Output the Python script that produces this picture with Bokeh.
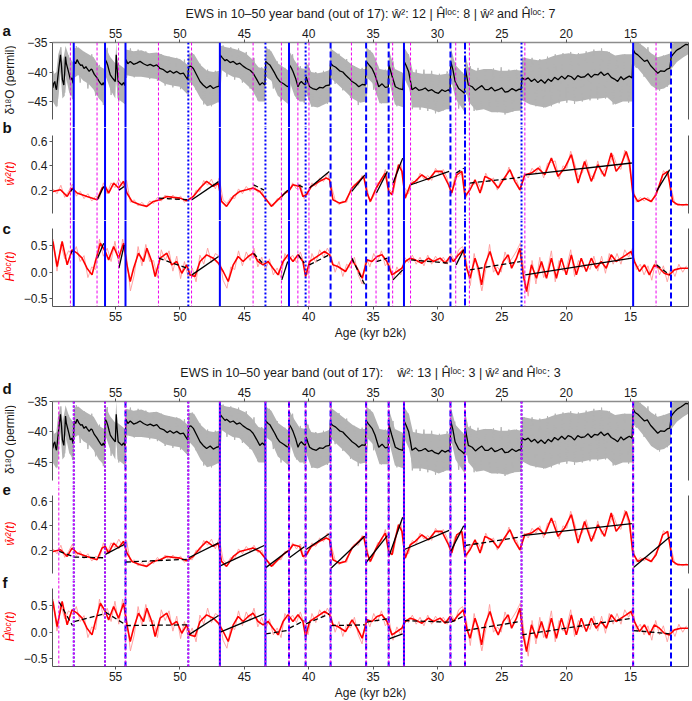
import math
from bokeh.plotting import figure
from bokeh.models import Range1d, LinearAxis, FixedTicker, Span, Spacer
from bokeh.layouts import column, row
from bokeh.core.properties import value
from bokeh.embed import file_html
from bokeh.resources import INLINE

# ------------------------------------------------------------------ data
x_ticks = [55, 50, 45, 40, 35, 30, 25, 20, 15]

# delta18O running mean (age kyr b2k, permil)
d18o_pts = [
    (59.88, -42.7), (59.80, -41.9), (59.72, -41.6), (59.65, -42.6), (59.59, -43.0), (59.50, -41.2),
    (59.41, -39.4), (59.35, -38.3), (59.28, -37.1), (59.20, -39.0), (59.13, -41.3), (59.02, -42.2),
    (58.95, -40.0), (58.89, -37.4), (58.82, -38.6), (58.76, -39.1), (58.63, -40.2), (58.51, -41.3),
    (58.40, -41.0), (58.30, -41.9), (58.22, -38.2), (58.10, -38.6), (57.99, -37.9), (57.85, -38.5),
    (57.70, -38.9), (57.60, -38.8), (57.45, -39.4), (57.30, -39.1), (57.22, -39.4), (57.05, -39.9),
    (56.90, -39.5), (56.83, -39.6), (56.65, -40.4), (56.44, -41.0), (56.30, -41.5), (56.15, -42.0),
    (56.05, -42.2), (55.95, -41.8), (55.86, -42.3), (55.80, -37.9), (55.70, -38.3), (55.62, -38.8),
    (55.50, -39.8), (55.41, -40.5), (55.25, -41.0), (55.10, -41.4), (55.02, -41.6), (54.95, -37.1),
    (54.88, -39.5), (54.80, -41.6), (54.65, -41.9), (54.51, -42.2), (54.38, -41.8), (54.26, -42.3),
    (54.20, -37.9), (54.05, -38.6), (53.86, -38.2), (53.60, -38.7), (53.35, -38.5), (53.10, -38.2),
    (52.83, -38.6), (52.55, -38.9), (52.31, -38.7), (52.05, -39.0), (51.80, -38.8), (51.55, -39.4),
    (51.28, -39.6), (51.00, -40.1), (50.77, -39.8), (50.50, -40.2), (50.25, -39.9), (50.00, -40.3),
    (49.73, -40.2), (49.55, -40.8), (49.40, -41.3), (49.32, -39.1), (49.15, -39.0), (48.96, -39.4),
    (48.70, -40.5), (48.44, -41.6), (48.20, -42.2), (47.93, -42.7), (47.65, -42.3), (47.41, -42.8),
    (47.15, -42.5), (46.95, -42.4), (46.88, -37.1), (46.70, -37.6), (46.50, -38.1), (46.38, -37.9),
    (46.10, -38.4), (45.86, -38.2), (45.60, -38.7), (45.35, -38.5), (45.10, -39.0), (44.83, -39.4),
    (44.55, -39.7), (44.32, -40.2), (44.05, -41.2), (43.80, -42.2), (43.60, -41.8), (43.40, -42.2),
    (43.34, -38.2), (43.15, -38.6), (43.02, -38.8), (42.80, -39.6), (42.64, -40.2), (42.45, -41.0),
    (42.25, -41.6), (41.95, -42.0), (41.70, -42.4), (41.56, -42.5), (41.50, -38.8), (41.35, -39.3),
    (41.22, -39.9), (41.00, -41.2), (40.83, -42.5), (40.70, -41.9), (40.57, -41.6), (40.40, -42.0),
    (40.26, -42.2), (40.20, -40.8), (40.05, -41.8), (39.93, -42.5), (39.70, -42.8), (39.41, -43.0),
    (39.15, -42.6), (38.90, -42.7), (38.65, -42.3), (38.38, -42.2), (38.30, -38.5), (38.15, -38.9),
    (37.90, -39.2), (37.60, -39.8), (37.35, -40.0), (37.14, -40.5), (36.90, -41.0), (36.63, -41.6),
    (36.35, -42.0), (36.11, -42.5), (35.85, -42.1), (35.60, -42.2), (35.53, -38.2), (35.35, -38.7),
    (35.08, -39.4), (34.85, -40.5), (34.56, -42.5), (34.30, -42.0), (34.05, -42.6), (33.82, -42.5),
    (33.77, -38.8), (33.55, -40.5), (33.27, -42.5), (33.00, -42.8), (32.68, -43.0), (32.59, -38.2),
    (32.45, -38.8), (32.24, -39.9), (32.10, -41.5), (31.98, -43.0), (31.70, -42.6), (31.45, -43.1),
    (31.21, -43.0), (30.95, -42.7), (30.70, -43.2), (30.44, -43.0), (30.20, -43.4), (29.92, -43.6),
    (29.65, -43.0), (29.40, -43.3), (29.15, -43.0), (29.02, -43.3), (28.97, -38.2), (28.80, -39.6),
    (28.63, -41.6), (28.35, -42.8), (28.10, -43.2), (27.90, -43.6), (27.84, -39.4), (27.72, -40.8),
    (27.60, -42.2), (27.30, -42.5), (27.05, -43.1), (26.82, -42.7), (26.55, -42.3), (26.30, -43.0),
    (26.05, -43.0), (25.80, -42.6), (25.55, -43.2), (25.28, -43.0), (25.00, -42.7), (24.75, -43.4),
    (24.50, -43.3), (24.20, -42.8), (23.90, -43.2), (23.65, -42.9), (23.50, -43.0), (23.44, -41.0),
    (23.20, -41.3), (22.95, -41.0), (22.70, -41.6), (22.45, -41.2), (22.20, -41.8), (21.95, -41.3),
    (21.66, -41.9), (21.40, -41.2), (21.15, -41.6), (20.90, -40.9), (20.63, -41.3), (20.35, -40.7),
    (20.10, -41.2), (19.85, -40.6), (19.60, -40.8), (19.35, -41.3), (19.10, -40.6), (18.85, -40.9),
    (18.57, -40.8), (18.30, -40.3), (18.05, -40.9), (17.80, -40.4), (17.54, -40.5), (17.30, -40.0),
    (17.05, -40.6), (16.77, -40.2), (16.50, -40.9), (16.25, -41.2), (16.00, -41.6), (15.75, -40.8),
    (15.55, -41.3), (15.34, -41.0), (15.10, -40.7), (14.88, -41.0), (14.80, -36.2), (14.65, -36.8),
    (14.44, -37.1), (14.20, -37.6), (13.92, -38.2), (13.70, -38.0), (13.45, -38.9), (13.15, -39.6),
    (12.89, -40.2), (12.65, -39.8), (12.38, -39.9), (12.15, -39.5), (11.95, -39.35), (11.84, -37.4),
    (11.70, -37.0), (11.50, -36.5), (11.34, -36.2), (11.10, -35.9), (10.90, -35.6), (10.70, -35.3),
    (10.52, -35.4),
]

# raw delta18O envelope (age, upper, lower)
gray_pts = [
    (59.88, -40.5, -45.0), (59.60, -40.0, -46.0), (59.45, -37.0, -44.5), (59.28, -35.8, -40.0),
    (59.13, -38.5, -44.5), (58.95, -36.5, -44.0), (58.89, -35.6, -40.5), (58.60, -37.5, -43.5),
    (58.26, -38.5, -44.5), (58.22, -36.0, -41.0), (57.90, -35.8, -40.5), (57.50, -36.5, -41.5),
    (57.10, -37.0, -42.0), (56.70, -37.5, -43.0), (56.30, -39.0, -44.5), (55.86, -39.5, -45.5),
    (55.80, -35.8, -40.5), (55.40, -37.5, -43.0), (55.02, -38.5, -44.5), (54.95, -35.0, -40.0),
    (54.85, -38.5, -44.5), (54.25, -39.5, -45.5), (54.20, -36.2, -40.5), (53.60, -36.5, -40.8),
    (53.00, -36.3, -40.8), (52.40, -36.8, -41.0), (51.80, -36.7, -41.2), (51.20, -37.2, -42.0),
    (50.60, -37.5, -42.3), (50.00, -37.8, -42.5), (49.40, -38.8, -43.8), (49.32, -36.8, -41.5),
    (48.90, -37.0, -42.5), (48.40, -38.8, -44.5), (47.90, -39.8, -45.8), (47.40, -40.0, -45.5),
    (46.92, -39.8, -45.0), (46.88, -35.5, -39.5), (46.40, -35.8, -40.2), (45.90, -36.0, -40.8),
    (45.40, -36.3, -41.0), (44.90, -36.8, -42.0), (44.40, -37.8, -43.0), (43.90, -39.2, -45.0),
    (43.38, -39.5, -45.0), (43.34, -35.8, -40.8), (42.90, -36.5, -41.5), (42.40, -38.5, -44.0),
    (41.55, -39.8, -45.5), (41.50, -36.5, -41.5), (41.10, -38.0, -44.0), (40.70, -39.3, -45.0),
    (40.27, -39.5, -45.0), (40.20, -38.3, -43.5), (39.80, -40.0, -45.8), (39.30, -40.2, -46.0),
    (38.80, -40.0, -45.5), (38.32, -39.6, -45.0), (38.30, -36.0, -41.0), (37.80, -36.8, -42.0),
    (37.20, -37.8, -43.2), (36.60, -38.8, -44.5), (36.00, -39.5, -45.2), (35.55, -39.5, -45.0),
    (35.53, -35.8, -40.8), (35.00, -36.8, -42.0), (34.50, -39.5, -45.3), (33.80, -39.8, -45.3),
    (33.77, -36.3, -41.5), (33.30, -39.5, -45.5), (32.62, -40.2, -46.0), (32.59, -35.8, -41.0),
    (32.20, -37.2, -42.8), (31.90, -40.0, -46.0), (31.20, -40.3, -46.0), (30.50, -40.3, -46.3),
    (29.90, -40.5, -46.8), (29.30, -40.3, -46.3), (29.00, -40.5, -46.3), (28.97, -35.8, -41.0),
    (28.60, -38.8, -44.5), (27.88, -40.5, -46.8), (27.84, -36.8, -42.0), (27.60, -39.2, -45.0),
    (27.00, -39.8, -46.5), (26.40, -39.5, -46.3), (25.80, -39.5, -46.8), (25.20, -39.8, -46.8),
    (24.60, -39.8, -47.0), (24.00, -39.6, -46.6), (23.46, -39.8, -46.5), (23.44, -37.5, -44.8),
    (22.80, -37.8, -45.5), (22.20, -38.0, -45.8), (21.60, -37.8, -46.0), (21.00, -37.3, -45.5),
    (20.40, -37.0, -45.0), (19.80, -36.8, -44.8), (19.20, -37.0, -45.0), (18.60, -36.8, -44.8),
    (18.00, -36.5, -44.5), (17.40, -36.4, -44.5), (16.80, -36.5, -44.3), (16.20, -37.2, -45.5),
    (15.60, -37.0, -45.0), (14.82, -37.0, -45.0), (14.80, -34.8, -38.5), (14.40, -35.0, -39.5),
    (13.90, -35.8, -40.8), (13.40, -36.8, -42.3), (12.90, -37.5, -43.0), (12.40, -37.2, -42.8),
    (11.88, -36.8, -42.0), (11.84, -35.2, -39.5), (11.40, -35.0, -38.3), (10.90, -35.0, -37.5),
    (10.52, -35.0, -37.0),
]

# grid of the unsmoothed series (kyr b2k)
raw_age = [59.85, 59.55, 59.25, 58.95, 58.65, 58.35, 58.05, 57.75, 57.45, 57.15,
           56.85, 56.55, 56.25, 55.95, 55.65, 55.35, 55.05, 54.75, 54.45, 54.15,
           53.85, 53.55, 53.25, 52.95, 52.65, 52.35, 52.05, 51.75, 51.45, 51.15,
           50.85, 50.55, 50.25, 49.95, 49.65, 49.35, 49.05, 48.75, 48.45, 48.15,
           47.85, 47.55, 47.25, 46.95, 46.65, 46.35, 46.05, 45.75, 45.45, 45.15,
           44.85, 44.55, 44.25, 43.95, 43.65, 43.35, 43.05, 42.75, 42.45, 42.15,
           41.85, 41.55, 41.25, 40.95, 40.65, 40.35, 40.05, 39.75, 39.45, 39.15,
           38.85, 38.55, 38.25, 37.95, 37.65, 37.35, 37.05, 36.75, 36.45, 36.15,
           35.85, 35.55, 35.25, 34.95, 34.65, 34.35, 34.05, 33.75, 33.45, 33.15,
           32.85, 32.55, 32.25, 31.95, 31.65, 31.35, 31.05, 30.75, 30.45, 30.15,
           29.85, 29.55, 29.25, 28.95, 28.65, 28.35, 28.05, 27.75, 27.45, 27.15,
           26.85, 26.55, 26.25, 25.95, 25.65, 25.35, 25.05, 24.75, 24.45, 24.15,
           23.85, 23.55, 23.25, 22.95, 22.65, 22.35, 22.05, 21.75, 21.45, 21.15,
           20.85, 20.55, 20.25, 19.95, 19.65, 19.35, 19.05, 18.75, 18.45, 18.15,
           17.85, 17.55, 17.25, 16.95, 16.65, 16.35, 16.05, 15.75, 15.45, 15.15,
           14.85, 14.55, 14.25, 13.95, 13.65, 13.35, 13.05, 12.75, 12.45, 12.15,
           11.85, 11.55, 11.25, 10.95, 10.65]

# raw delta18O spikes on that grid
d18o_raw = [-39.8, -45.8, -35.8, -43.5, -37.2, -44.6, -35.6, -41.8, -36.6, -42.8,
            -37.0, -44.0, -38.8, -45.6, -35.9, -43.9, -38.6, -45.0, -39.3, -41.0,
            -36.0, -40.9, -36.2, -40.7, -36.5, -41.2, -36.8, -41.5, -37.0, -42.3,
            -37.4, -42.6, -37.6, -42.9, -37.9, -43.8, -36.8, -43.0, -38.6, -45.5,
            -39.6, -45.8, -39.8, -45.2, -35.5, -40.8, -35.8, -41.3, -36.0, -41.8,
            -36.6, -42.8, -37.6, -44.8, -39.2, -41.0, -36.2, -42.8, -38.2, -45.0,
            -39.3, -45.5, -37.0, -44.5, -39.0, -45.2, -38.8, -45.9, -40.0, -45.8,
            -39.8, -45.4, -36.0, -42.0, -36.9, -43.1, -37.8, -44.4, -39.0, -45.6,
            -39.3, -45.2, -36.3, -43.0, -38.9, -45.3, -39.6, -41.8, -38.2, -45.8,
            -40.0, -41.2, -37.0, -46.3, -39.6, -46.4, -39.6, -46.6, -39.8, -47.0,
            -40.3, -46.5, -39.9, -41.5, -38.3, -46.2, -40.1, -43.8, -39.0, -46.6,
            -39.3, -46.0, -39.5, -46.6, -39.4, -46.8, -39.2, -47.2, -39.6, -46.7,
            -39.6, -46.5, -37.6, -45.2, -37.6, -45.8, -37.8, -46.0, -37.4, -45.8,
            -37.0, -45.3, -36.8, -45.2, -36.6, -45.4, -36.8, -45.0, -36.5, -44.8,
            -36.2, -44.7, -36.0, -44.5, -36.6, -45.5, -37.6, -45.0, -37.0, -45.2,
            -38.3, -39.3, -35.2, -40.8, -35.8, -42.2, -37.0, -43.2, -37.2, -42.5,
            -36.9, -38.5, -35.0, -37.4, -35.0]

# smoothed variance w^2(t)
w_age = [59.87, 59.28, 58.76, 58.38, 57.99, 57.22, 56.44, 56.05, 55.80, 55.54,
         55.15, 54.77, 54.38, 54.12, 53.73, 53.09, 52.57, 52.06, 51.54, 51.02,
         50.51, 49.99, 49.48, 48.96, 48.44, 47.93, 47.41, 47.02, 46.77, 46.38,
         45.86, 45.35, 44.83, 44.32, 43.80, 43.28, 42.90, 42.51, 41.99, 41.48,
         41.22, 40.70, 40.45, 40.19, 39.80, 39.16, 38.64, 38.38, 38.12, 37.61,
         37.14, 36.63, 36.11, 35.73, 35.47, 35.21, 34.82, 34.31, 34.05, 33.79,
         33.53, 33.27, 33.02, 32.76, 32.50, 32.11, 31.73, 31.21, 30.69, 30.18,
         29.66, 29.14, 28.89, 28.50, 28.11, 27.86, 27.47, 27.08, 26.69, 26.31,
         25.79, 25.28, 24.89, 24.37, 23.99, 23.60, 23.21, 22.70, 22.18, 21.66,
         21.15, 20.63, 20.12, 19.60, 19.08, 18.57, 18.05, 17.54, 17.02, 16.50,
         16.12, 15.73, 15.34, 15.09, 14.83, 14.44, 13.92, 13.41, 13.02, 12.50,
         12.12, 11.73, 11.34, 10.52]
w_smooth = [0.189, 0.203, 0.148, 0.217, 0.176, 0.148, 0.121, 0.217, 0.230, 0.176,
            0.258, 0.217, 0.272, 0.176, 0.107, 0.080, 0.066, 0.107, 0.121, 0.148,
            0.140, 0.134, 0.112, 0.148, 0.217, 0.272, 0.230, 0.258, 0.107, 0.066,
            0.148, 0.189, 0.203, 0.217, 0.189, 0.121, 0.066, 0.107, 0.162, 0.203,
            0.244, 0.230, 0.148, 0.162, 0.230, 0.272, 0.299, 0.285, 0.121, 0.093,
            0.107, 0.217, 0.272, 0.313, 0.176, 0.107, 0.203, 0.299, 0.340, 0.189,
            0.162, 0.299, 0.409, 0.354, 0.134, 0.244, 0.272, 0.326, 0.285, 0.354,
            0.354, 0.244, 0.176, 0.326, 0.354, 0.148, 0.203, 0.285, 0.176, 0.313,
            0.285, 0.217, 0.285, 0.368, 0.272, 0.203, 0.326, 0.340, 0.381, 0.326,
            0.464, 0.313, 0.381, 0.491, 0.258, 0.436, 0.272, 0.409, 0.313, 0.505,
            0.354, 0.409, 0.518, 0.436, 0.176, 0.107, 0.134, 0.107, 0.162, 0.326,
            0.354, 0.107, 0.080, 0.080]
w_raw = [0.21, 0.17, 0.24, 0.14, 0.19, 0.25, 0.15, 0.19, 0.13, 0.17,
         0.11, 0.15, 0.13, 0.26, 0.17, 0.26, 0.22, 0.29, 0.23, 0.28,
         0.10, 0.12, 0.07, 0.10, 0.06, 0.11, 0.09, 0.14, 0.11, 0.16,
         0.12, 0.16, 0.12, 0.15, 0.10, 0.13, 0.12, 0.20, 0.19, 0.28,
         0.24, 0.29, 0.21, 0.30, 0.12, 0.09, 0.14, 0.13, 0.21, 0.17,
         0.23, 0.19, 0.24, 0.18, 0.20, 0.11, 0.10, 0.07, 0.13, 0.12,
         0.19, 0.18, 0.26, 0.21, 0.25, 0.13, 0.17, 0.26, 0.23, 0.30,
         0.27, 0.34, 0.24, 0.12, 0.08, 0.11, 0.10, 0.21, 0.25, 0.24,
         0.32, 0.26, 0.10, 0.15, 0.26, 0.27, 0.37, 0.21, 0.17, 0.33,
         0.43, 0.22, 0.17, 0.28, 0.25, 0.34, 0.29, 0.32, 0.28, 0.38,
         0.33, 0.37, 0.30, 0.16, 0.31, 0.31, 0.35, 0.14, 0.24, 0.25,
         0.26, 0.20, 0.34, 0.27, 0.30, 0.20, 0.29, 0.28, 0.39, 0.29,
         0.28, 0.19, 0.34, 0.30, 0.38, 0.34, 0.40, 0.30, 0.42, 0.43,
         0.44, 0.29, 0.40, 0.38, 0.52, 0.42, 0.31, 0.34, 0.45, 0.33,
         0.29, 0.44, 0.33, 0.38, 0.41, 0.49, 0.40, 0.37, 0.53, 0.42,
         0.24, 0.10, 0.14, 0.11, 0.14, 0.10, 0.18, 0.22, 0.36, 0.33,
         0.22, 0.08, 0.09, 0.07, 0.09]

# smoothed local Hurst exponent H^loc(t)
h_age = [59.87, 59.54, 59.15, 58.76, 58.38, 57.99, 57.60, 57.22, 56.83, 56.57,
         56.18, 55.80, 55.54, 55.15, 54.77, 54.38, 54.12, 53.86, 53.60, 53.22,
         52.83, 52.57, 52.19, 51.93, 51.54, 51.02, 50.64, 50.25, 49.86, 49.48,
         49.22, 48.83, 48.44, 47.93, 47.41, 47.02, 46.64, 46.25, 45.86, 45.48,
         45.09, 44.70, 44.32, 43.93, 43.54, 43.15, 42.77, 42.38, 41.99, 41.61,
         41.22, 40.83, 40.45, 40.24, 39.93, 39.54, 39.16, 38.77, 38.38, 38.12,
         37.74, 37.14, 36.63, 36.24, 35.85, 35.47, 35.08, 34.69, 34.31, 33.92,
         33.53, 33.14, 32.76, 32.50, 32.11, 31.73, 31.21, 30.69, 30.31, 29.79,
         29.40, 29.02, 28.76, 28.37, 27.99, 27.73, 27.47, 27.08, 26.82, 26.57,
         26.31, 25.92, 25.53, 25.28, 24.89, 24.50, 24.24, 23.86, 23.60, 23.34,
         23.08, 22.70, 22.31, 21.92, 21.53, 21.15, 20.76, 20.37, 19.99, 19.60,
         19.21, 18.83, 18.44, 18.05, 17.67, 17.28, 16.89, 16.50, 16.12, 15.73,
         15.34, 14.96, 14.70, 14.31, 13.92, 13.54, 13.15, 12.76, 12.38, 11.99,
         11.60, 11.09, 10.52]
h_smooth = [0.575, 0.107, 0.575, 0.138, 0.419, 0.356, 0.263, 0.075, -0.05, 0.20,
            0.544, 0.388, 0.231, 0.481, 0.263, 0.544, 0.138, -0.174, 0.075, 0.356,
            0.20, 0.45, 0.20, -0.081, 0.263, 0.356, 0.138, 0.20, -0.02, 0.138,
            -0.05, -0.081, 0.20, 0.325, 0.263, 0.169, 0.013, -0.174, 0.138, 0.294,
            0.20, 0.294, 0.356, 0.20, 0.138, 0.20, 0.075, -0.05, 0.20, 0.325,
            0.20, 0.325, 0.20, -0.081, 0.20, 0.263, 0.325, 0.388, 0.325, 0.138,
            0.107, 0.013, 0.231, 0.075, -0.112, 0.231, 0.20, 0.294, 0.325, 0.20,
            -0.05, 0.013, 0.075, 0.20, 0.263, 0.231, 0.169, 0.263, 0.20, 0.263,
            0.169, 0.294, 0.20, 0.325, 0.419, 0.075, -0.112, 0.263, 0.075, -0.237,
            0.138, 0.388, 0.075, -0.05, 0.20, 0.325, 0.075, 0.263, 0.45, -0.05,
            -0.362, 0.138, -0.112, 0.20, -0.112, 0.263, -0.112, 0.263, -0.05, 0.325,
            -0.05, 0.263, 0.013, 0.263, 0.075, 0.20, 0.075, 0.325, 0.20, 0.263,
            0.325, 0.388, 0.20, 0.013, 0.138, -0.05, 0.138, 0.075, -0.019, -0.05,
            0.044, 0.075, 0.075]
h_raw = [0.62, 0.02, 0.52, 0.25, 0.40, 0.33, 0.48, 0.20, 0.31, -0.10,
         0.10, 0.05, 0.62, 0.30, 0.45, 0.20, 0.58, 0.15, 0.62, 0.28,
         -0.35, -0.05, 0.48, 0.12, 0.52, 0.20, 0.22, -0.10, 0.42, 0.22,
         0.40, 0.02, 0.30, -0.12, 0.20, -0.10, 0.08, -0.18, 0.32, 0.15,
         0.45, 0.18, 0.35, 0.30, -0.15, -0.30, 0.10, 0.05, 0.40, 0.12,
         0.38, 0.22, 0.45, 0.10, 0.28, 0.05, 0.25, -0.05, 0.08, -0.10,
         0.35, 0.22, 0.32, 0.18, 0.38, 0.15, -0.05, 0.35, 0.18, 0.42,
         0.28, 0.45, 0.30, 0.00, 0.20, -0.08, 0.15, 0.08, 0.28, -0.05,
         -0.22, 0.28, 0.10, 0.35, 0.20, 0.40, 0.12, 0.22, -0.15, 0.10,
         -0.05, 0.28, 0.18, 0.32, 0.15, 0.28, 0.12, 0.32, 0.15, 0.30,
         0.18, 0.28, 0.15, 0.35, 0.20, 0.42, 0.48, 0.22, -0.25, 0.35,
         0.00, -0.35, 0.05, 0.52, 0.00, 0.10, 0.00, 0.38, 0.18, 0.28,
         0.40, 0.55, -0.05, -0.45, 0.22, -0.22, 0.28, -0.10, 0.05, 0.40,
         -0.18, 0.22, 0.02, 0.10, 0.42, -0.08, 0.22, 0.08, 0.15, 0.05,
         0.30, 0.02, 0.30, -0.02, 0.35, 0.15, 0.35, 0.15, 0.42, 0.28,
         0.45, 0.05, 0.15, -0.05, 0.12, -0.15, 0.22, -0.05, 0.12, -0.18,
         0.10, -0.08, 0.15, 0.00, 0.12]

# DO transitions (onset ages) and EWS significance
transitions = [58.25, 55.82, 54.23, 49.35, 46.90, 43.36, 41.53, 40.24, 38.30,
               35.54, 33.79, 32.60, 28.99, 27.86, 23.47, 14.80, 11.86]
# panels a-c: windows starting at individually chosen ages
starts_1 = [58.51, 56.44, 54.77, 51.67, 49.10, 44.32, 42.12, 40.84, 39.98,
            36.68, 34.77, 33.48, 32.09, 28.58, 27.52, 23.21, 13.02]
sig_1 = ["both", "both", "both", "none", "both", "none", "both", "none", "w",
         "w", "w", "both", "w", "H", "none", "both", "w"]
fit_w_1 = [(0.19, 0.21), (0.12, 0.23), (0.20, 0.23), (0.134, 0.121), (0.12, 0.27),
           (0.244, 0.20), (0.148, 0.20), (0.244, 0.217), (0.217, 0.354), (0.19, 0.326),
           (0.176, 0.354), (0.258, 0.463), (0.244, 0.354), (0.34, 0.38), (0.258, 0.304),
           (0.326, 0.423), (0.19, 0.368)]
fit_h_1 = [(0.35, 0.40), (0.263, 0.544), (0.075, 0.512), (0.263, 0.075), (-0.05, 0.294),
           (0.356, 0.138), (-0.143, 0.20), (0.325, 0.169), (0.138, 0.325), (0.263, -0.237),
           (0.20, 0.263), (-0.143, 0.044), (0.231, 0.169), (0.138, 0.419), (0.044, 0.20),
           (-0.05, 0.263), (0.138, -0.05)]
# panels d-f: windows from the previous transition
starts_2 = [59.41, 58.25, 55.82, 54.23, 49.35, 46.90, 43.36, 41.53, 40.24,
            38.30, 35.54, 33.79, 32.60, 28.99, 27.86, 23.47, 14.80]
sig_2 = ["none", "none", "w", "none", "both", "both", "w", "w", "w",
         "w", "w", "both", "w", "w", "none", "w", "w"]
fit_w_2 = [(0.19, 0.15), (0.143, 0.137), (0.165, 0.246), (0.102, 0.124), (0.137, 0.259),
           (0.07, 0.238), (0.056, 0.192), (0.137, 0.227), (0.205, 0.335), (0.05, 0.314),
           (0.102, 0.319), (0.151, 0.47), (0.205, 0.362), (0.192, 0.40), (0.238, 0.308),
           (0.319, 0.417), (0.056, 0.308)]
fit_h_2 = [(0.562, 0.125), (0.20, 0.343), (0.375, 0.156), (0.125, 0.137), (-0.05, 0.312),
           (0.0, 0.343), (-0.03, 0.031), (0.075, 0.218), (0.156, 0.343), (0.125, 0.137),
           (0.187, 0.25), (-0.125, -0.03), (0.218, 0.187), (0.187, 0.30), (0.031, 0.20),
           (-0.05, 0.262), (0.031, -0.03)]

# ------------------------------------------------------------------ style
FONT = "Liberation Sans"
AXC = "#555555"
TXT = "#1a1a1a"
FS = "12px"
X_LEFT, X_RIGHT = 59.9, 10.5
SIDE_W = 16
LB = 36
FW = 636
RB = 2
TOP = 41
BOTTOM = 36
BLUE = "#0000ff"
MAG = "#ee00ee"
BLUE_DASH = {"both": "solid", "w": "6 3", "H": "7 2 2 2", "none": "2 2"}


def style_axis(ax):
    ax.axis_line_color = AXC
    ax.major_tick_line_color = AXC
    ax.major_tick_in = 0
    ax.major_tick_out = 3
    ax.minor_tick_line_color = None
    ax.major_label_text_font = FONT
    ax.major_label_text_font_size = FS
    ax.major_label_text_color = TXT
    ax.major_label_standoff = 2
    ax.axis_label_text_font = FONT
    ax.axis_label_text_font_size = FS
    ax.axis_label_text_font_style = "normal"
    ax.axis_label_text_color = TXT
    ax.axis_label_standoff = 2


def new_fig(frame_h, yr, top=0, bottom=0, title=None):
    p = figure(frame_width=FW, frame_height=frame_h,
               x_range=Range1d(X_LEFT, X_RIGHT), y_range=Range1d(*yr),
               output_backend="svg", toolbar_location=None,
               x_axis_location=None, y_axis_location=None, title=title,
               min_border_left=LB, min_border_right=RB,
               min_border_top=top, min_border_bottom=bottom)
    p.outline_line_color = None
    p.grid.visible = False
    if title is not None:
        p.title.align = "center"
        p.title.text_font = FONT
        p.title.text_font_size = "12.5px"
        p.title.text_font_style = "normal"
        p.title.text_color = TXT
        p.title.standoff = 9
    return p


def left_axis(p, bounds, ticks, labels):
    ax = LinearAxis(bounds=bounds, ticker=FixedTicker(ticks=ticks),
                    major_label_overrides=dict(zip(ticks, labels)))
    style_axis(ax)
    p.add_layout(ax, "left")
    rax = LinearAxis(bounds=bounds, ticker=FixedTicker(ticks=[]))
    rax.axis_line_color = AXC
    rax.major_tick_line_color = None
    rax.minor_tick_line_color = None
    rax.major_label_text_font_size = "0px"
    rax.major_label_standoff = 0
    rax.major_tick_out = 0
    p.add_layout(rax, "right")


def x_axis(p, loc, label=None):
    ax = LinearAxis(ticker=FixedTicker(ticks=x_ticks), axis_label=label)
    style_axis(ax)
    if loc == "above":
        ax.axis_line_color = "#8c8c8c"
        ax.axis_line_width = 1.5
    p.add_layout(ax, loc)


def vlines(p, starts, sig, kind):
    for t, s in zip(transitions, sig):
        p.add_layout(Span(location=t, dimension="height", line_color=BLUE,
                          line_width=2, line_dash=BLUE_DASH[s]))
    for s0 in starts:
        if kind == 1 or s0 not in transitions:
            p.add_layout(Span(location=s0, dimension="height", line_color=MAG,
                              line_width=1, line_dash="3 2"))
        else:
            p.add_layout(Span(location=s0, dimension="height", line_color=MAG,
                              line_width=1.5, line_dash="2 2"))


def fits(p, starts, fitvals, sig, key):
    solid = dict(x0=[], y0=[], x1=[], y1=[])
    dashed = dict(x0=[], y0=[], x1=[], y1=[])
    for s0, t, (v0, v1), s in zip(starts, transitions, fitvals, sig):
        d = solid if s in ("both", key) else dashed
        d["x0"].append(s0 - 0.03)
        d["x1"].append(t + 0.1)
        d["y0"].append(v0)
        d["y1"].append(v1)
    p.segment(x0="x0", y0="y0", x1="x1", y1="y1", source=solid,
              line_color="black", line_width=1.3)
    p.segment(x0="x0", y0="y0", x1="x1", y1="y1", source=dashed,
              line_color="black", line_width=1.3, line_dash="5 3")


def counts(sig):
    nw = sum(s in ("both", "w") for s in sig)
    nh = sum(s in ("both", "H") for s in sig)
    nb = sum(s == "both" for s in sig)
    return nw, nh, nb


def side_fig(height, letters, letter_y, labels):
    """Panel letters and rotated y-axis titles, left of the axes."""
    p = figure(width=SIDE_W, height=height, x_range=Range1d(0, SIDE_W),
               y_range=Range1d(0, height), output_backend="svg", toolbar_location=None,
               x_axis_location=None, y_axis_location=None, title=None, min_border=0)
    p.outline_line_color = None
    p.grid.visible = False
    p.text(x=[2] * len(letters), y=[height - y for y in letter_y], text=letters,
           text_font=value(FONT), text_font_style="bold", text_font_size="15px",
           text_baseline="middle", text_align="left", text_color="#111111")
    for txt, y, col, style in labels:
        p.text(x=[9], y=[height - y], text=[txt], angle=math.pi / 2,
               text_font=value(FONT), text_font_style=style, text_font_size=FS,
               text_baseline="middle", text_align="center", text_color=col)
    return p


d_age = [a for a, v in d18o_pts]
d_val = [v for a, v in d18o_pts]
g_age = [a for a, u, l in gray_pts]
g_hi = [u for a, u, l in gray_pts]
g_lo = [l for a, u, l in gray_pts]
n_raw = min(len(raw_age), len(d18o_raw), len(w_raw), len(h_raw))


def half(starts, sig, fit_w, fit_h, letters, sep, kind, yr_a, letter_y):
    nw, nh, nb = counts(sig)
    ttl = ("EWS in 10\u201350 year band (out of %d):%s\u0175\u00b2: %d | \u0124\u02e1\u1d52\u1d9c: %d | "
           "\u0175\u00b2 and \u0124\u02e1\u1d52\u1d9c: %d" % (len(transitions), sep, nw, nh, nb))
    fa_h = yr_a[2]
    # delta18O
    fa = new_fig(fa_h, yr_a[:2], top=TOP, title=ttl)
    fa.varea(x=g_age, y1=g_lo, y2=g_hi, fill_color="#b3b3b3")
    fa.line(raw_age[:n_raw], d18o_raw[:n_raw], line_color="#b3b3b3", line_width=1)
    fa.line(d_age, d_val, line_color="black", line_width=1.3)
    left_axis(fa, (-48.0, -35.0), [-45, -40, -35], ["\u221245", "\u221240", "\u221235"])
    x_axis(fa, "above")
    vlines(fa, starts, sig, kind)

    # w^2
    fb = new_fig(93, (-0.05, 0.715))
    fb.line(raw_age[:n_raw], w_raw[:n_raw], line_color="#ff9a9a", line_width=0.9)
    fb.line(w_age, w_smooth, line_color="#ff0000", line_width=1.6)
    fits(fb, starts, fit_w, sig, "w")
    left_axis(fb, (0.01, 0.65), [0.2, 0.4, 0.6], ["0.2", "0.4", "0.6"])
    vlines(fb, starts, sig, kind)

    # H^loc
    fc = new_fig(86, (-0.642, 0.968), bottom=BOTTOM)
    fc.line(raw_age[:n_raw], h_raw[:n_raw], line_color="#ff9a9a", line_width=0.9)
    fc.line(h_age, h_smooth, line_color="#ff0000", line_width=1.6)
    fits(fc, starts, fit_h, sig, "H")
    left_axis(fc, (-0.642, 0.82), [-0.5, 0.0, 0.5], ["\u22120.5", "0.0", "0.5"])
    x_axis(fc, "below", "Age (kyr b2k)")
    vlines(fc, starts, sig, kind)

    total_h = TOP + fa_h + 93 + 86 + BOTTOM
    a_mid = TOP + (fa_h - 8) / 2.0
    b_mid = TOP + fa_h + 8 + 78 / 2.0
    c_mid = TOP + fa_h + 93 + 8 + 78 / 2.0
    labels = [("\u03b4\u00b9\u2078O (permil)", a_mid, TXT, "normal"),
              ("\u0175\u00b2(t)", b_mid, "#ff0000", "italic"),
              ("\u0124\u02e1\u1d52\u1d9c(t)", c_mid, "#ff0000", "italic")]
    sf = side_fig(total_h, list(letters), letter_y, labels)
    return row(sf, column(fa, fb, fc))


top_half = half(starts_1, sig_1, fit_w_1, fit_h_1, "abc", " ", 1,
                (-49.4, -35.0, 85), [30, 127, 228])
bottom_half = half(starts_2, sig_2, fit_w_2, fit_h_2, "def", "\u00a0\u00a0\u00a0 ", 2,
                   (-49.1, -35.0, 86), [29, 130, 223])

layout = column(top_half, Spacer(width=10, height=17), bottom_half)

open("out.html", "w", encoding="utf-8").write(file_html(layout, INLINE))
